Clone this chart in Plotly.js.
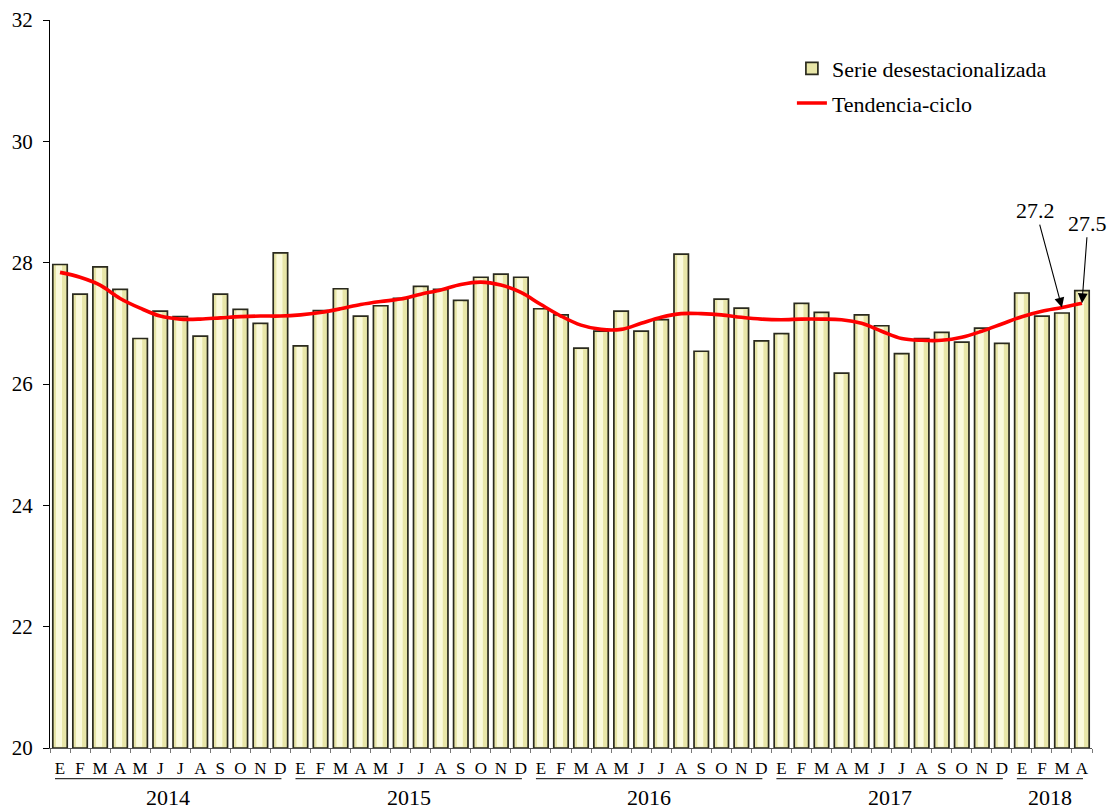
<!DOCTYPE html>
<html>
<head>
<meta charset="utf-8">
<script src="https://cdn.plot.ly/plotly-3.0.1.min.js"></script>
<style>
  html, body { margin: 0; padding: 0; background: #ffffff; }
  #chart { width: 1108px; height: 811px; }
</style>
</head>
<body>
<div id="chart"></div>
<script>
// ---- data ----
var months = ["E","F","M","A","M","J","J","A","S","O","N","D",
              "E","F","M","A","M","J","J","A","S","O","N","D",
              "E","F","M","A","M","J","J","A","S","O","N","D",
              "E","F","M","A","M","J","J","A","S","O","N","D",
              "E","F","M","A"];
var years = ["2014","2015","2016","2017","2018"];
var monthsPerYear = [12, 12, 12, 12, 4];

var serieDesest = [
  27.97, 27.48, 27.93, 27.56, 26.75, 27.20, 27.11, 26.79, 27.48, 27.23, 27.00, 28.16,
  26.63, 27.21, 27.57, 27.12, 27.29, 27.41, 27.61, 27.56, 27.38, 27.76, 27.81, 27.76,
  27.24, 27.14, 26.59, 26.87, 27.20, 26.87, 27.06, 28.14, 26.54, 27.40, 27.25, 26.71,
  26.83, 27.33, 27.18, 26.18, 27.14, 26.96, 26.50, 26.75, 26.85, 26.69, 26.92, 26.67,
  27.50, 27.12, 27.17, 27.54
];
var tendenciaCiclo = [
  27.84, 27.76, 27.63, 27.41, 27.25, 27.12, 27.07, 27.07, 27.09, 27.11, 27.12, 27.12,
  27.14, 27.18, 27.24, 27.31, 27.36, 27.40, 27.48, 27.55, 27.64, 27.68, 27.63, 27.51,
  27.31, 27.12, 26.97, 26.90, 26.90, 27.00, 27.10, 27.16, 27.16, 27.14, 27.10, 27.07,
  27.06, 27.07, 27.07, 27.06, 27.00, 26.87, 26.75, 26.72, 26.72, 26.77, 26.87, 26.99,
  27.11, 27.20, 27.26, 27.33
];
var yTicks = [20, 22, 24, 26, 28, 30, 32];
var annotatedIdx = [50, 51];

// ---- build ----
var idx = months.map(function (m, i) { return i; });
var base = 20;
var font = "Liberation Serif, Times New Roman, serif";

var bars = {
  type: "bar", x: idx, y: serieDesest.map(function (v) { return v - base; }), base: base,
  width: 0.72, name: "Serie desestacionalizada", legendgroup: "a",
  marker: { color: "#E8E6A8", line: { color: "#2A2A1E", width: 1.7 } },
  hoverinfo: "skip"
};
var highlight = {
  type: "bar", x: idx, y: serieDesest.map(function (v) { return v - base - 0.04; }), base: base + 0.02,
  width: 0.3, offset: -0.2, showlegend: false,
  marker: { color: "#FBFADC", line: { width: 0 } },
  hoverinfo: "skip"
};
var trend = {
  type: "scatter", mode: "lines", x: idx, y: tendenciaCiclo, name: "Tendencia-ciclo", legendgroup: "b",
  line: { color: "#FF0000", width: 3.6, shape: "spline", smoothing: 1 },
  hoverinfo: "skip"
};

var shapes = [], annotations = [];
var start = 0;
years.forEach(function (yr, k) {
  var n = monthsPerYear[k];
  var first = start, last = start + n - 1;
  shapes.push({
    type: "line", xref: "x", yref: "paper",
    x0: first - 0.25, x1: last + 0.05, y0: -0.042, y1: -0.042,
    line: { color: "#333333", width: 1.2 }
  });
  annotations.push({
    xref: "x", yref: "paper", x: (first + last) / 2 - 0.1, y: -0.068,
    text: yr, showarrow: false, xanchor: "center", yanchor: "middle",
    font: { family: font, size: 22, color: "#000" }
  });
  start += n;
});
var offsets = [[-26, -97], [6, -80]];
annotatedIdx.forEach(function (i, k) {
  annotations.push({
    xref: "x", yref: "y", x: i, y: tendenciaCiclo[i],
    text: serieDesest[i].toFixed(1), showarrow: true,
    ax: offsets[k][0], ay: offsets[k][1],
    arrowhead: 2, arrowsize: 1.8, arrowwidth: 1.1, arrowcolor: "#000",
    font: { family: font, size: 22, color: "#000" }
  });
});

var layout = {
  width: 1108, height: 811,
  margin: { l: 50, r: 16, t: 20, b: 63 },
  paper_bgcolor: "#ffffff", plot_bgcolor: "#ffffff",
  font: { family: font, color: "#000" },
  barmode: "overlay",
  showlegend: true,
  legend: {
    x: 0.712, y: 0.962, xanchor: "left", yanchor: "top",
    font: { family: font, size: 22, color: "#000" },
    bgcolor: "rgba(0,0,0,0)", tracegroupgap: 3, traceorder: "grouped"
  },
  xaxis: {
    range: [-0.5, 51.5], tickmode: "array", tickvals: idx, ticktext: months,
    ticks: "", showgrid: false, zeroline: false,
    showline: true, linecolor: "#555555", linewidth: 1,
    tickfont: { family: font, size: 17, color: "#000" },
    ticklabelstandoff: 5,
    minor: { tick0: 0.5, dtick: 1, ticks: "outside", ticklen: 4, tickcolor: "#777777", showgrid: false }
  },
  yaxis: {
    range: [20, 32], tickmode: "array", tickvals: yTicks, ticktext: yTicks.map(String),
    ticks: "outside", ticklen: 6, tickcolor: "#000",
    showline: true, linecolor: "#000", linewidth: 1,
    showgrid: false, zeroline: false,
    tickfont: { family: font, size: 21, color: "#000" },
    ticklabelstandoff: 6
  },
  shapes: shapes,
  annotations: annotations
};

Plotly.newPlot("chart", [bars, highlight, trend], layout, { displayModeBar: false, staticPlot: true });
</script>
</body>
</html>
